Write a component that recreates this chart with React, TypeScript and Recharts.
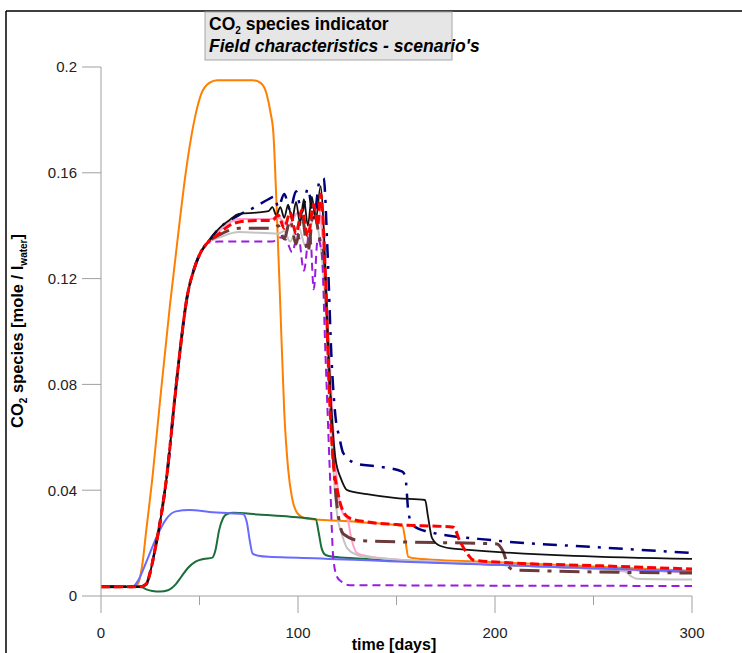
import { LineChart, Line, XAxis, YAxis } from 'recharts'

// shared rise, days / mole per l water
const riseT = [0, 20, 23, 25, 27, 30, 33.5, 37.5, 40, 43.7, 47, 50, 54]
const riseV = [0.0035, 0.0035, 0.0045, 0.009, 0.016, 0.028, 0.046, 0.075, 0.092, 0.113, 0.123, 0.129, 0.1335]

const orangeT = [0, 17, 19, 21, 23, 26, 30, 35, 40, 43, 45, 48, 51, 55, 59, 77, 81, 84, 86, 87.5, 89, 91, 93, 95, 97, 100, 104, 130, 153, 154.5, 156, 160, 200, 250, 300]
const orangeV = [0.0035, 0.0035, 0.005, 0.012, 0.025, 0.044, 0.074, 0.11, 0.142, 0.16, 0.17, 0.182, 0.19, 0.194, 0.195, 0.195, 0.194, 0.19, 0.183, 0.175, 0.15, 0.11, 0.07, 0.048, 0.037, 0.031, 0.0293, 0.028, 0.0265, 0.021, 0.0148, 0.0142, 0.0128, 0.0112, 0.0095]

const greenT = [0, 20, 23, 26, 30, 34, 38, 41, 44, 48, 52, 56.5, 58, 60, 62, 64, 67, 80, 96, 109, 110.5, 112, 114, 118, 130, 200, 300]
const greenV = [0.0035, 0.0035, 0.0025, 0.0019, 0.0017, 0.0022, 0.0045, 0.0075, 0.0105, 0.013, 0.014, 0.0145, 0.017, 0.025, 0.0295, 0.031, 0.0315, 0.0308, 0.03, 0.029, 0.024, 0.018, 0.0155, 0.0148, 0.0142, 0.0118, 0.009]

const blueT = [0, 16, 19, 22, 24, 28, 33, 38, 45, 55, 65, 72, 74, 75.5, 77, 80, 85, 100, 150, 200, 250, 300]
const blueV = [0.0035, 0.0035, 0.006, 0.011, 0.0147, 0.022, 0.029, 0.032, 0.0325, 0.0318, 0.0313, 0.031, 0.028, 0.021, 0.016, 0.0152, 0.0148, 0.0145, 0.013, 0.0118, 0.0105, 0.0092]

const pinkT = [60, 70, 85, 90, 95, 100, 105, 110, 113, 116, 119, 121, 123, 125, 127, 130, 140, 200, 300]
const pinkV = [0.138, 0.1425, 0.1425, 0.143, 0.14, 0.145, 0.138, 0.148, 0.13, 0.09, 0.05, 0.036, 0.031, 0.0295, 0.022, 0.0162, 0.0145, 0.012, 0.009]

const grayT = [60, 70, 90, 93, 96, 100, 104, 108, 111, 114, 117, 120, 122, 125, 130, 135, 200, 266, 269, 272, 300]
const grayV = [0.1355, 0.1376, 0.137, 0.138, 0.134, 0.14, 0.132, 0.143, 0.135, 0.11, 0.06, 0.03, 0.024, 0.018, 0.0155, 0.0147, 0.012, 0.0093, 0.0075, 0.0065, 0.0062]

const purpleT = [60, 87, 91, 94, 97, 100, 103, 106, 108, 110, 112, 114, 116, 118, 120, 122, 126, 300]
const purpleV = [0.134, 0.134, 0.1355, 0.1346, 0.13, 0.137, 0.123, 0.139, 0.116, 0.135, 0.13, 0.09, 0.05, 0.0136, 0.007, 0.0055, 0.0041, 0.0038]

const brownT = [60, 70, 87, 90, 93, 96, 99, 102, 105, 108, 111, 113, 116, 119, 121, 123, 131, 150, 201, 204, 207, 210, 300]
const brownV = [0.1365, 0.139, 0.139, 0.14, 0.135, 0.142, 0.133, 0.144, 0.13, 0.146, 0.135, 0.13, 0.08, 0.04, 0.028, 0.0235, 0.021, 0.0205, 0.0197, 0.017, 0.011, 0.0098, 0.0087]

const navyT = [60, 70, 78, 85, 88, 90, 93, 96, 99, 102, 105, 108, 111, 113, 115, 117, 119, 121, 123, 130, 140, 153, 154.5, 156, 158, 165, 200, 250, 300]
const navyV = [0.139, 0.144, 0.147, 0.15, 0.151, 0.147, 0.152, 0.146, 0.153, 0.145, 0.154, 0.143, 0.157, 0.158, 0.13, 0.09, 0.068, 0.06, 0.054, 0.05, 0.049, 0.047, 0.045, 0.032, 0.027, 0.0245, 0.021, 0.0185, 0.0163]

const blackT = [60, 65, 70, 80, 85, 87, 89, 91, 93, 95, 97, 99, 101, 103, 105, 107, 109, 111.5, 113, 115, 117, 119, 122, 125, 135, 150, 164.5, 166, 168, 172, 180, 300]
const blackV = [0.139, 0.142, 0.1445, 0.145, 0.1455, 0.147, 0.144, 0.147, 0.143, 0.148, 0.142, 0.149, 0.141, 0.15, 0.14, 0.151, 0.142, 0.155, 0.14, 0.1, 0.07, 0.052, 0.044, 0.04, 0.0385, 0.037, 0.0363, 0.03, 0.022, 0.019, 0.0178, 0.014]

const redT = [60, 65, 70, 80, 87, 90, 93, 96, 99, 102, 105, 108, 110, 111.5, 114, 116, 118, 120, 122, 126, 135, 150, 179, 182, 186, 189, 209, 250, 300]
const redV = [0.137, 0.14, 0.1414, 0.142, 0.142, 0.144, 0.139, 0.145, 0.137, 0.146, 0.136, 0.148, 0.14, 0.152, 0.12, 0.075, 0.05, 0.04, 0.0337, 0.0295, 0.028, 0.027, 0.026, 0.021, 0.016, 0.0136, 0.0125, 0.0115, 0.0102]

const xTicks = [0, 50, 100, 150, 200, 250, 300]
const yTicks = [0, 0.04, 0.08, 0.12, 0.16, 0.2]

const pts = (t: number[], v: number[]) => t.map((d, i) => ({ t: d, v: v[i] }))
const withRise = (t: number[], v: number[]) => pts([...riseT, ...t], [...riseV, ...v])

const series = [
  { name: 'orange', data: pts(orangeT, orangeV), color: '#FF7F00', w: 2, dash: undefined },
  { name: 'green', data: pts(greenT, greenV), color: '#1B6E3A', w: 2, dash: undefined },
  { name: 'pink', data: withRise(pinkT, pinkV), color: '#FF9ECF', w: 2, dash: undefined },
  { name: 'gray', data: withRise(grayT, grayV), color: '#C4C4C4', w: 2, dash: undefined },
  { name: 'blue', data: pts(blueT, blueV), color: '#6A6AFF', w: 2, dash: undefined },
  { name: 'purple', data: withRise(purpleT, purpleV), color: '#9A1AE0', w: 2, dash: '8 5' },
  { name: 'brown', data: withRise(brownT, brownV), color: '#6B3A3A', w: 3, dash: '20 8 4 8' },
  { name: 'navy', data: withRise(navyT, navyV), color: '#000080', w: 2.5, dash: '14 8 3 8' },
  { name: 'black', data: withRise(blackT, blackV), color: '#111111', w: 1.8, dash: undefined },
  { name: 'red', data: withRise(redT, redV), color: '#FF0000', w: 3, dash: '9 4' },
]

const axisGray = '#A0A0A0'
const font = '"Liberation Sans", Arial, sans-serif'

function TimeTick(props: any) {
  const { x, y, payload } = props
  const major = payload.value % 100 === 0
  return (
    <g>
      <line x1={x} y1={y} x2={x} y2={y + (major ? 17 : 9)} stroke={axisGray} />
      {major && (
        <text x={x} y={y + 42} textAnchor="middle" fontSize={15} fill="#222" fontFamily={font}>
          {payload.value}
        </text>
      )}
    </g>
  )
}

export default function App() {
  return (
    <div style={{ position: 'absolute', left: 0, top: 0, width: 742, height: 653, background: '#fff', overflow: 'hidden' }}>
      <LineChart width={742} height={653} margin={{ top: 67, right: 50, left: 41, bottom: 27 }}>
        <XAxis
          type="number"
          dataKey="t"
          domain={[0, 300]}
          ticks={xTicks}
          tick={<TimeTick />}
          tickLine={false}
          tickSize={0}
          tickMargin={0}
          height={30}
          axisLine={{ stroke: axisGray }}
          allowDataOverflow
        />
        <YAxis
          type="number"
          domain={[0, 0.2]}
          ticks={yTicks}
          width={60}
          tickSize={19}
          tickMargin={5}
          tickLine={{ stroke: axisGray }}
          axisLine={{ stroke: axisGray }}
          tick={{ fontSize: 15, fill: '#222', fontFamily: font }}
          tickFormatter={(v: number) => String(+v.toFixed(2))}
          allowDataOverflow
        />
        {series.map((s) => (
          <Line
            key={s.name}
            data={s.data}
            dataKey="v"
            type="monotone"
            stroke={s.color}
            strokeWidth={s.w}
            strokeDasharray={s.dash}
            dot={false}
            activeDot={false}
            isAnimationActive={false}
          />
        ))}
      </LineChart>
      <svg width={742} height={653} style={{ position: 'absolute', left: 0, top: 0, pointerEvents: 'none' }}>
        <line x1={6} y1={11} x2={742} y2={11} stroke="#000" strokeWidth={1.5} />
        <line x1={6} y1={11} x2={6} y2={653} stroke="#000" strokeWidth={1.5} />
        <rect x={205} y={12} width={247} height={48} fill="#E6E6E6" stroke="#A8A8A8" />
        <text x={209} y={30} fontSize={17.5} fontWeight="bold" fontFamily={font} fill="#000">
          CO<tspan fontSize={10} dy={4}>2</tspan>
          <tspan dy={-4}> species indicator</tspan>
        </text>
        <text x={209} y={52} fontSize={17.5} fontWeight="bold" fontStyle="italic" fontFamily={font} fill="#000">
          Field characteristics - scenario's
        </text>
        <text
          transform="translate(23,331) rotate(-90)"
          textAnchor="middle"
          fontSize={16.5}
          fontWeight="bold"
          fontFamily={font}
          fill="#000"
        >
          CO<tspan fontSize={10} dy={4}>2</tspan>
          <tspan dy={-4}> species [mole / l</tspan>
          <tspan fontSize={10} dy={4}>water</tspan>
          <tspan dy={-4}>]</tspan>
        </text>
        <text x={394} y={650} textAnchor="middle" fontSize={16} fontWeight="bold" fontFamily={font} fill="#000">
          time [days]
        </text>
      </svg>
    </div>
  )
}
